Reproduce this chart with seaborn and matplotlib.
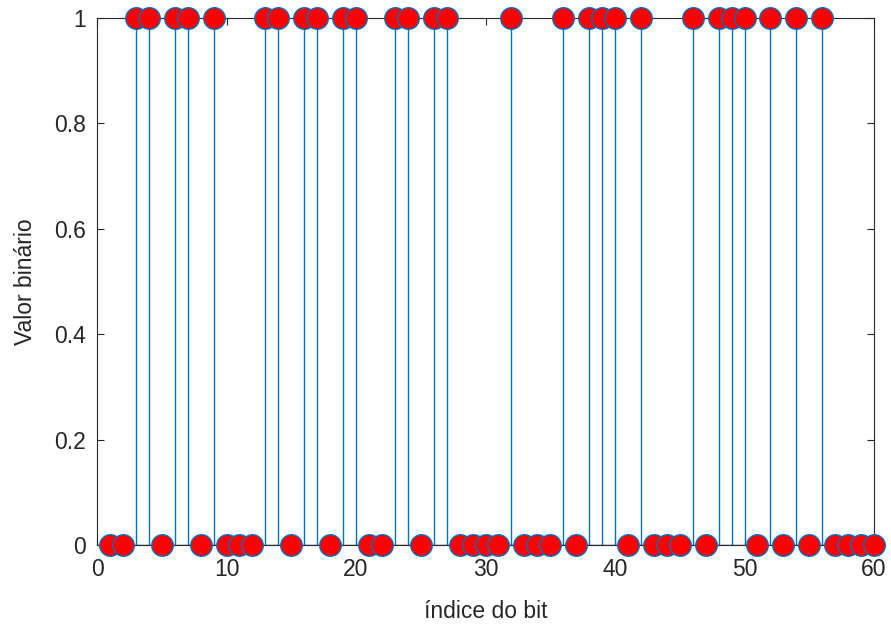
import numpy as np
import matplotlib
matplotlib.use("Agg")
import matplotlib.pyplot as plt
import seaborn as sns
import pandas as pd

bit_index = list(range(1, 61))
bit_values = [0, 0, 1, 1, 0, 1, 1, 0, 1, 0,
              0, 0, 1, 1, 0, 1, 1, 0, 1, 1,
              0, 0, 1, 1, 0, 1, 1, 0, 0, 0,
              0, 1, 0, 0, 0, 1, 0, 1, 1, 1,
              0, 1, 0, 0, 0, 1, 0, 1, 1, 1,
              0, 1, 0, 1, 0, 1, 0, 0, 0, 0]
x_ticks = [0, 10, 20, 30, 40, 50, 60]
y_ticks = [0, 0.2, 0.4, 0.6, 0.8, 1]
y_tick_labels = ["0", "0.2", "0.4", "0.6", "0.8", "1"]

sns.set_theme(style="white")
plt.rcParams['font.family'] = ['Liberation Sans', 'DejaVu Sans']

df = pd.DataFrame({"idx": bit_index, "val": bit_values})

fig = plt.figure(figsize=(8.91, 6.32), dpi=100)
ax = fig.add_axes([97/891, 1 - 545/632, (874-97)/891, (545-18)/632])

blue = "#0072BD"
dark = "#262626"
ax.axhline(0, color=dark, lw=1.0, zorder=1)
ax.vlines(df["idx"], 0, df["val"], color=blue, lw=1.0, zorder=2)
sns.scatterplot(data=df, x="idx", y="val", ax=ax, s=15.5**2, color="#FF0000",
                edgecolor=blue, linewidth=1.0, zorder=3, clip_on=False, legend=False)

ax.set_xlim(0, 60)
ax.set_ylim(0, 1)
ax.set_xticks(x_ticks)
ax.set_yticks(y_ticks)
ax.set_yticklabels(y_tick_labels)
ax.tick_params(direction="in", length=5, width=0.8, colors=dark, labelsize=16.5,
               top=True, right=True, bottom=True, left=True)
ax.tick_params(axis="x", pad=9)
ax.tick_params(axis="y", pad=8)
for s in ax.spines.values():
    s.set_color(dark)
    s.set_linewidth(0.8)
ax.set_xlabel("índice do bit", fontsize=16.5, color=dark, labelpad=14)
ax.set_ylabel("Valor binário", fontsize=16.5, color=dark, labelpad=12)

fig.savefig("out.png", dpi=100)
